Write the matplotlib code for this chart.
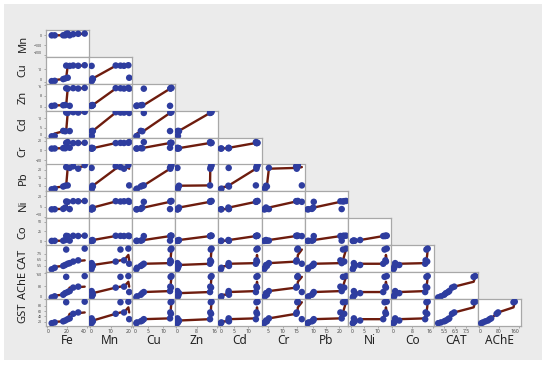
import numpy as np
import matplotlib
matplotlib.use('Agg')
import matplotlib.pyplot as plt
from matplotlib.patches import Rectangle

plt.rcParams['font.family'] = ['Noto Sans', 'DejaVu Sans']

# measured values, one entry per sample
fe = [5, 8, 16.5, 18.5, 19.5, 21, 23, 26.5, 31.5, 38]
mn = [0.8, 1.0, 1.5, 1.3, 14.8, 19.0, 0.9, 12.5, 16.5, 18.6]
cu = [1.0, 1.2, 2.5, 3.0, 12.5, 3.5, 12.3, 12.6, 12.4, 12.8]
zn = [0.5, 0.8, 1.0, 1.2, 13.5, 13.2, 0.6, 13.6, 13.3, 13.8]
cd = [0.3, 0.5, 3.2, 3.0, 13.0, 12.8, 3.1, 13.2, 13.0, 13.4]
cr = [3.5, 3.8, 4.5, 4.2, 15.2, 16.8, 5.2, 14.8, 15.0, 15.4]
pb = [7.8, 8.2, 9.5, 10.0, 21.5, 10.2, 21.0, 22.0, 20.5, 22.7]
ni = [0.8, 1.0, 1.5, 3.5, 12.5, 12.0, 1.2, 13.0, 12.8, 13.3]
co = [0.5, 0.8, 1.0, 2.8, 13.5, 13.0, 1.2, 13.8, 13.2, 14.0]
cat = [4.95, 5.2, 5.5, 5.65, 8.15, 5.85, 5.95, 6.2, 6.4, 8.3]
ache = [8, 15, 25, 35, 138, 42, 48, 70, 76, 143]
gst = [15, 18, 22, 25, 93, 30, 33, 50, 55, 95]

names = ['Fe', 'Mn', 'Cu', 'Zn', 'Cd', 'Cr', 'Pb', 'Ni', 'Co', 'CAT', 'AChE', 'GST']
data = dict(zip(names, [fe, mn, cu, zn, cd, cr, pb, ni, co, cat, ache, gst]))

# axis settings when a variable is on x (columns)
xlims = {'Fe': (-1.2, 42), 'Mn': (-0.5, 20.3), 'Cu': (-0.5, 14), 'Zn': (-0.3, 16.4),
         'Cd': (-0.6, 14.8), 'Cr': (2.6, 17.8), 'Pb': (6.7, 23.4), 'Ni': (-1, 14.9),
         'Co': (-0.4, 16.6), 'CAT': (4.6, 8.5), 'AChE': (-7, 167)}
xticks = {'Fe': [0, 20, 40], 'Mn': [0, 10, 20], 'Cu': [0, 5, 10], 'Zn': [0, 8, 16],
          'Cd': [0, 5, 10], 'Cr': [5, 10, 15], 'Pb': [10, 15, 20], 'Ni': [0, 5, 10],
          'Co': [0, 8, 16], 'CAT': [5.5, 6.5, 7.5], 'AChE': [0, 80, 160]}
# axis settings when a variable is on y (rows)
ylims = {'Mn': (-218, 55), 'Cu': (-1, 19), 'Zn': (-3, 16.8), 'Cd': (-0.4, 14),
         'Cr': (-29, 26), 'Pb': (6.5, 23.1), 'Ni': (-12.5, 27.5), 'Co': (-10.6, 59),
         'CAT': (4.5, 8.85), 'AChE': (-2, 168), 'GST': (5, 105)}
yticks = {'Mn': [0, -100, -200], 'Cu': [0, 10], 'Zn': [0, 8, 16], 'Cd': [0, 5, 10],
          'Cr': [-20, 0, 20], 'Pb': [10, 15, 20], 'Ni': [-10, 5, 20], 'Co': [0, 25, 50],
          'CAT': [5.5, 6.5, 7.5], 'AChE': [0, 80, 160], 'GST': [20, 40, 60, 80]}


def smooth(x, y, half=2):
    # running median over neighbours in x order
    x = np.asarray(x, float)
    y = np.asarray(y, float)
    order = np.argsort(x, kind='stable')
    x, y = x[order], y[order]
    n = len(x)
    fit = np.array([np.median(y[max(0, k - half):min(n, k + half + 1)]) for k in range(n)])
    return x, fit


W, H = 550, 367
fig = plt.figure(figsize=(W / 100, H / 100), dpi=100)
bg = fig.add_axes([0, 0, 1, 1], zorder=-10)
bg.axis('off')
bg.set_xlim(0, W)
bg.set_ylim(H, 0)
bg.add_patch(Rectangle((4, 4), 538, 356, facecolor='#ebebeb', edgecolor='none'))

x0, y0, cw, rh = 45.5, 30.0, 43.2, 26.9
dot_col = '#2e3d9f'
line_col = '#6e1c0e'

for i in range(11):
    rv = names[i + 1]
    for j in range(i + 1):
        cv = names[j]
        ax = fig.add_axes([(x0 + j * cw) / W, 1 - (y0 + (i + 1) * rh) / H, cw / W, rh / H])
        ax.set_facecolor('white')
        lx, ly = smooth(data[cv], data[rv])
        ax.plot(lx, ly, color=line_col, lw=1.7, zorder=2, solid_capstyle='round')
        ax.scatter(data[cv], data[rv], s=22, color=dot_col, edgecolors='none', zorder=3)
        ax.set_xlim(xlims[cv])
        ax.set_ylim(ylims[rv])
        for sp in ax.spines.values():
            sp.set_color('#a8a8a8')
            sp.set_linewidth(0.9)
        ax.tick_params(length=1.5, width=0.4, color='#777777', pad=1)
        if i == 10:
            ax.set_xticks(xticks[cv])
            ax.tick_params(axis='x', labelsize=3.6, labelcolor='#444444')
            lo, hi = xlims[cv]
            for t, v in zip(ax.get_xticklabels(), xticks[cv]):
                if v - lo < 0.08 * (hi - lo):
                    t.set_ha('left')
                elif hi - v < 0.08 * (hi - lo):
                    t.set_ha('right')
        else:
            ax.set_xticks([])
        if j == 0:
            ax.set_yticks(yticks[rv])
            ax.tick_params(axis='y', labelsize=2.6, labelcolor='#444444')
            lo, hi = ylims[rv]
            for t, v in zip(ax.get_yticklabels(), yticks[rv]):
                if v - lo < 0.1 * (hi - lo):
                    t.set_va('bottom')
                elif hi - v < 0.1 * (hi - lo):
                    t.set_va('top')
        else:
            ax.set_yticks([])
    fig.text(23 / W, 1 - (y0 + (i + 0.5) * rh) / H, rv, rotation=90, ha='center', va='center',
             fontsize=8, color='#222222')

for j in range(11):
    fig.text((x0 + (j + 0.5) * cw) / W, 1 - 341 / H, names[j], ha='center', va='center',
             fontsize=8.5, color='#222222')

fig.savefig('out.png', dpi=100)
